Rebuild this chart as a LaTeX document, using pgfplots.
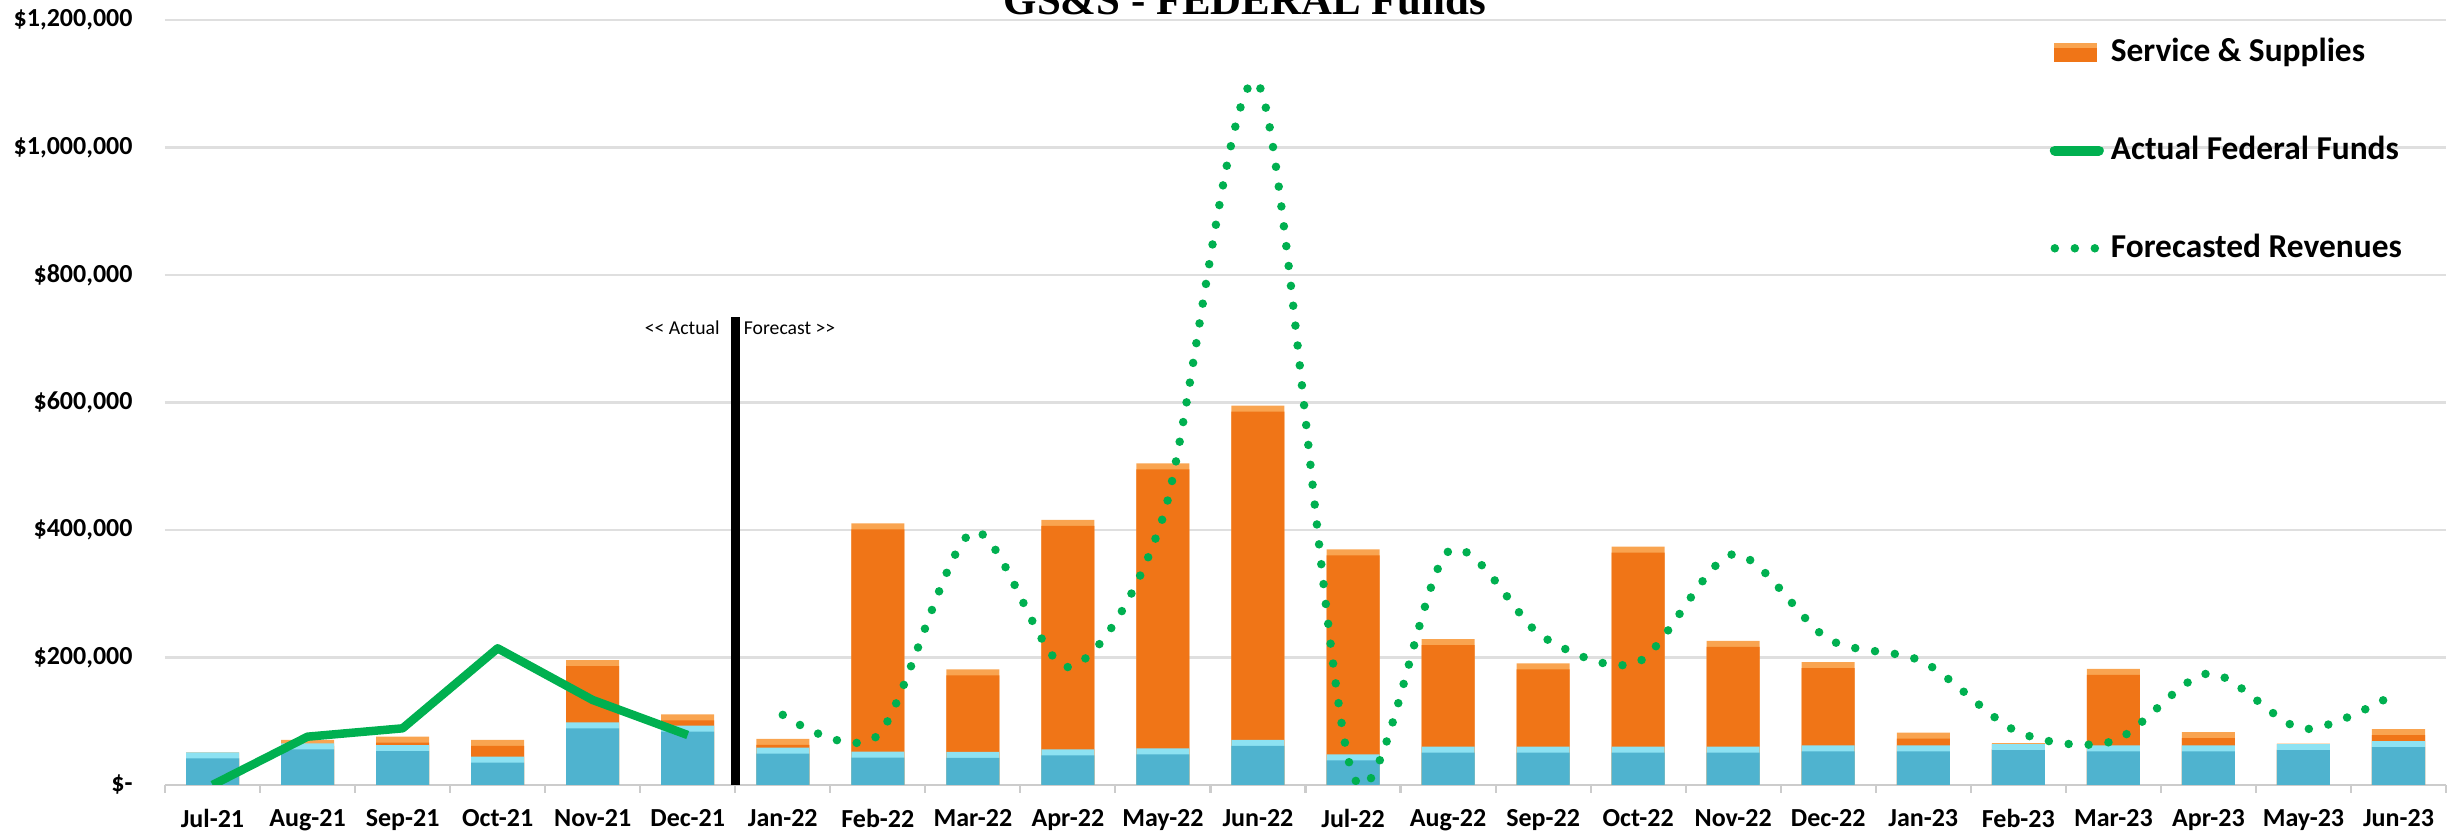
\documentclass[border=0pt]{standalone}
\usepackage{fontspec}
\setmainfont{Carlito}
\newfontfamily\calfont{Carlito}
\newfontfamily\titlefont{Liberation Serif}
\usepackage{pgfplots}
\pgfplotsset{compat=1.18}
\usepackage{pgfplotstable}

\definecolor{ssorange}{HTML}{F07517}
\definecolor{sslight}{HTML}{F9A450}
\definecolor{salblue}{HTML}{4FB3CF}
\definecolor{sallight}{HTML}{8DE2F2}
\definecolor{fedgreen}{HTML}{00B050}

\newcommand\tickfont{\fontsize{7.4}{8}\selectfont\bfseries}

% monthly costs: blue base and Service & Supplies on top
\pgfplotstableread{
x  blue   orange
0  51000  0
1  65400  5200
2  62700  13100
3  44400  26200
4  98300  97700
5  93000  17900
6  58600  13600
7  52300  358100
8  52000  129400
9  56000  359700
10 57500  447100
11 70600  524400
12 48100  321600
13 60100  168900
14 60100  130800
15 60100  313700
16 60100  165800
17 62200  130700
18 62200  19800
19 64300  1200
20 62200  119800
21 62200  20900
22 64300  700
23 69000  18800
}\costs

\pgfplotstableread{
x actual
0 0
1 75800
2 88900
3 214400
4 133300
5 78400
}\actual

\pgfplotstableread{
x  forecast
6  110000
7  78000
8  397000
9  185000
10 420000
11 1100000
12 15000
13 366000
14 232000
15 193000
16 362000
17 229000
18 193000
19 83000
20 69000
21 175000
22 88000
23 146000
}\forecast

\begin{document}
\begin{tikzpicture}
\begin{axis}[name=ax,
  width=228.1mm, height=76.5mm, scale only axis,
  xmin=-0.5, xmax=23.5, ymin=0, ymax=1200000,
  axis x line*=bottom, axis y line*=left,
  y axis line style={draw=none},
  x axis line style={gray!40, line width=0.6pt},
  xtick={0,...,23},
  xticklabels={Jul-21,Aug-21,Sep-21,Oct-21,Nov-21,Dec-21,Jan-22,Feb-22,Mar-22,Apr-22,May-22,Jun-22,
               Jul-22,Aug-22,Sep-22,Oct-22,Nov-22,Dec-22,Jan-23,Feb-23,Mar-23,Apr-23,May-23,Jun-23},
  minor xtick={-0.5,0.5,...,23.5},
  ytick={0,200000,...,1200000},
  yticklabels={{\$-\hspace{1.1mm}},{\$200,000},{\$400,000},{\$600,000},{\$800,000},{\$1,000,000},{\$1,200,000}},
  scaled y ticks=false,
  major tick length=0pt, minor tick length=0.8mm, tick align=outside,
  minor x tick style={gray!40, line width=0.6pt},
  ymajorgrids, grid style={gray!25, line width=0.6pt},
  tick label style={font=\tickfont},
  xticklabel style={yshift=-1.2mm},
  yticklabel style={xshift=-2mm},
  legend cell align=left,
  legend style={at={(0.826,0.986)}, anchor=north west, draw=none, fill=none,
    inner sep=0pt, row sep=5.5mm, font=\fontsize{9.5}{11}\selectfont\bfseries,
    /tikz/every even column/.append style={column sep=1.2mm}},
]
\addplot[ybar, bar width=5.3mm, bar shift=0pt, fill=sslight, draw=none,
  legend image code/.code={
    \fill[ssorange] (0,-0.95mm) rectangle (4.3mm,0.95mm);
    \fill[sslight] (0,0.5mm) rectangle (4.3mm,0.95mm);}]
  table[x=x, y expr=\thisrow{blue}+\thisrow{orange}] {\costs};
\addlegendentry{Service \& Supplies}
\addplot[ybar, bar width=5.3mm, bar shift=0pt, fill=ssorange, draw=none, yshift=-0.6mm, forget plot]
  table[x=x, y expr=\thisrow{blue}+\thisrow{orange}] {\costs};
\addplot[ybar, bar width=5.3mm, bar shift=0pt, fill=sallight, draw=none, forget plot]
  table[x=x, y=blue] {\costs};
\addplot[ybar, bar width=5.3mm, bar shift=0pt, fill=salblue, draw=none, yshift=-0.6mm, forget plot]
  table[x=x, y=blue] {\costs};

\addplot[fedgreen, line width=0.85mm, line join=round,
  legend image code/.code={\draw[fedgreen, solid, line width=1mm, line cap=round] (0.1mm,0) -- (4.5mm,0);}]
  table[x=x, y=actual] {\actual};
\addlegendentry{Actual Federal Funds}
\addplot[fedgreen, smooth, line width=0.85mm, line cap=round, dash pattern=on 0pt off 2mm,
  legend image code/.code={\draw[fedgreen, line width=0.85mm, line cap=round, dash pattern=on 0pt off 2mm] (0.1mm,0) -- (4.3mm,0);}]
  table[x=x, y=forecast] {\forecast};
\addlegendentry{Forecasted Revenues}

\addplot[black, line width=0.9mm, forget plot] coordinates {(5.5,0) (5.5,734000)};
\node[anchor=east, font=\calfont\fontsize{5.6}{6}\selectfont, inner sep=0pt] at (axis cs:5.5,717000) [xshift=-1.5mm] {<< Actual};
\node[anchor=west, font=\calfont\fontsize{5.6}{6}\selectfont, inner sep=0pt] at (axis cs:5.5,717000) [xshift=0.8mm] {Forecast >>};
\end{axis}
\node[anchor=base, font=\titlefont\bfseries\fontsize{12.2}{14}\selectfont, inner sep=0pt]
  at ([xshift=108mm, yshift=0.5mm]ax.north west) {GS\&S - FEDERAL Funds};
\pgfresetboundingbox
\path ([shift={(-16.5mm,-5mm)}]ax.south west) rectangle ([shift={(1.3mm,2mm)}]ax.north east);
\end{tikzpicture}
\end{document}
